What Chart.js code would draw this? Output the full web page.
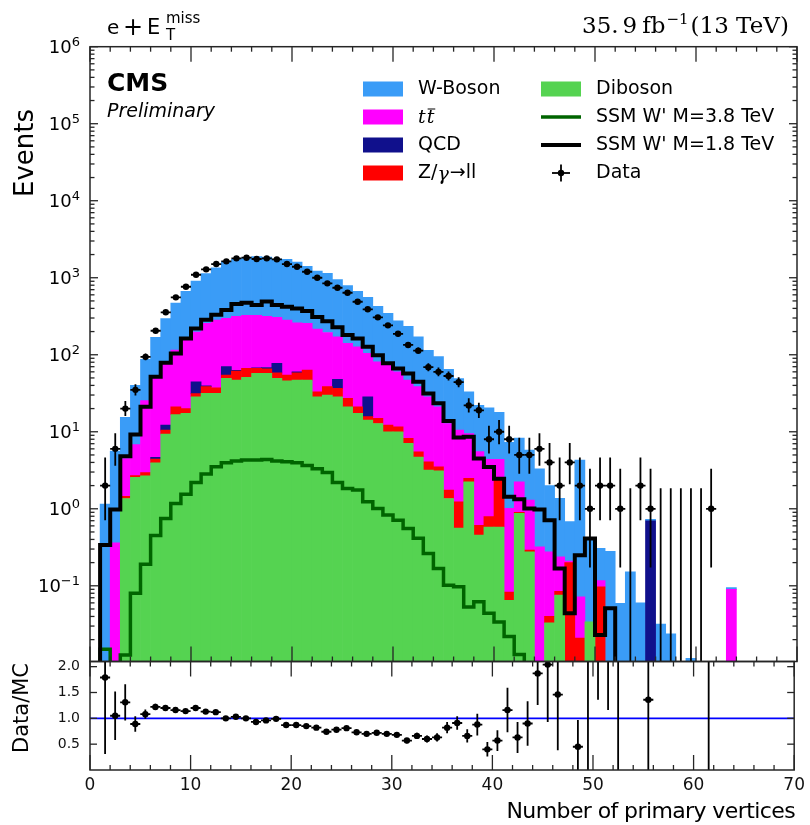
<!DOCTYPE html>
<html>
<head>
<meta charset="utf-8">
<script src="https://cdn.jsdelivr.net/npm/chart.js@4.4.0/dist/chart.umd.min.js"></script>
<style>
  html, body { margin: 0; padding: 0; background: #fff; }
  #wrap { position: relative; width: 810px; height: 825px; }
  #wrap canvas { position: absolute; left: 0; top: 0; }
</style>
</head>
<body>
<div id="wrap">
  <canvas id="mainPad" width="810" height="825"></canvas>
  <canvas id="ratioPad" width="810" height="825"></canvas>
</div>
<script>
// Unit-width bins in the number of primary vertices: [n, n+1)
const binLow = Array.from({ length: 70 }, (_, i) => i);

// Simulated backgrounds, events per bin (stacked bottom to top)
const diboson = [0,0,0,1.36,2.56,2.68,3.96,9.3,16.7,17.3,
  28.5,31.5,31.5,49.3,46.8,50.9,57.4,57.4,49.3,46.0,
  46.8,46.8,28.5,29.9,28.5,21.1,17.3,14.2,12.8,10.0,
  10.0,7.1,4.7,3.18,3.12,1.36,0.56,2.24,0.455,0.58,
  0.58,0.065,0.87,0.277,0,0.033,0.076,0,0,0.034,
  0,0,0,0,0,0,0,0,0,0, 0,0,0,0,0,0,0,0,0,0];
const zGamma = [0,0,0,0.09,0.14,0.27,0.46,1.2,4.4,2.7,
  2.8,7.0,5.7,5.3,14.7,15.5,9.4,8.4,8.9,8.6,
  11.4,16.5,4.5,8.6,8.1,6.1,3.8,1.5,2.1,2.2,
  1.6,1.1,0.8,0.89,0.38,0.39,0.67,0.24,0.155,0.21,
  1.78,0.018,0.03,0.013,0,0.007,0.009,0.2,0.021,0,
  0.097,0,0,0,0,0,0,0,0,0, 0,0,0,0,0,0,0,0,0,0];
const qcd = [0,0,0,0,0,0,0.23,1.7,0,0,
  13.3,1.0,0,15.4,1.5,0,0.7,2.5,19.2,0,
  1.8,0,0,0,11.4,0,0,12.8,0,0,
  0,0,0,0,0,0,0,0,0,0,
  0,0,0,0,0,0,0,0,0,0,
  0,0,0,0,0,0.70,0,0,0,0, 0,0,0,0,0,0,0,0,0,0];
const ttbar = [0,0,0.36,3.05,4.1,22.4,44.7,67.8,93.9,135,
  153,216,245,227,253,258,258,248,228,227,
  200,192,182,156,123,113,106,75.5,66,61.3,
  48.4,38.6,33,24.4,17.6,11.0,9.3,7.0,4.9,3.6,
  2.04,0.93,1.34,1.01,0.32,0.237,0.153,0.01,0.051,0,
  0.02,0,0,0,0,0,0,0,0,0, 0,0,0,0.09,0,0,0,0,0,0];
const wBoson = [0,1.15,5.24,10.9,33.2,61.7,118.7,215,355,510,
  707,879,1058,1323,1414,1496,1554,1544,1445,1448,
  1340,1155,1005,945,779,650,541,452,344,270.5,
  215,188,132.5,85.5,73.9,51.7,38.5,23.5,16.5,16.1,
  13.5,6.3,6.06,4.5,2.98,1.72,1.13,0.47,4.23,0.376,
  0.19,0.28,0.059,0.152,0.06,0.03,0.0318,0.0237,0,0.0114,
  0,0,0,0.005,0,0,0,0,0,0];

// Signal hypotheses (not stacked)
const ssm38 = [0,0.015,0,0.0126,0.080,0.19,0.45,0.75,1.17,1.55,
  2.2,2.82,3.51,3.96,4.17,4.29,4.29,4.38,4.17,4.07,
  3.96,3.65,3.3,2.95,2.2,1.84,1.75,1.23,1.01,0.83,
  0.71,0.556,0.413,0.263,0.168,0.102,0.097,0.053,0.062,0.044,
  0.034,0.022,0.0128,0,0,0,0,0,0,0,
  0,0,0,0,0,0,0,0,0,0, 0,0,0,0,0,0,0,0,0,0];
const ssm18 = [0,0.338,0.98,4.8,9.2,21.1,51.9,79,104,163,
  219,285,330,380,457,474,442,490,442,419,
  400,370,310,272,228,180,163,127,98.5,77.4,
  66.4,57.2,44.6,31.5,23.4,13.8,8.4,8.6,4.5,3.5,
  2.45,1.43,1.33,1.01,0.98,0.71,0.168,0.044,0.25,0.41,
  0.023,0.051,0,0,0,0,0,0,0,0, 0,0,0,0,0,0,0,0,0,0];

// Observed events (null = no entry drawn)
const dataCounts = [null,2,6,20,35,94,205,356,556,764,
  1094,1285,1506,1633,1786,1820,1750,1786,1734,1506,
  1390,1197,1000,845,741,638,488,389,306,241,
  187,134,113,69,60,53,44,22,19,8,
  10,8,5,5,6,4,2,4,2,1,
  2,2,1,0,2,1,0,0,0,0,
  0,1,null,null,null,null,null,null,null,null];

// Data / MC and its uncertainty
const ratio = [null,1.79,1.05,1.31,0.89,1.08,1.22,1.20,1.16,1.14,
  1.20,1.13,1.12,1.00,1.03,1.00,0.93,0.96,0.99,0.87,
  0.87,0.85,0.82,0.74,0.78,0.81,0.73,0.70,0.72,0.70,
  0.68,0.57,0.66,0.60,0.63,0.82,0.91,0.66,0.88,0.40,
  0.57,1.16,0.63,0.90,1.87,2.04,1.46,null,0.45,2.44,
  4.6,4.0,17,null,null,1.36,null,null,null,null,
  null,9.9,null,null,null,null,null,null,null,null];
const ratioErr = [null,1.48,0.47,0.35,0.15,0.09,0.06,0.05,0.04,0.035,
  0.03,0.03,0.03,0.03,0.03,0.03,0.03,0.03,0.03,0.03,
  0.03,0.03,0.03,0.03,0.03,0.03,0.03,0.03,0.03,0.03,
  0.035,0.05,0.06,0.07,0.08,0.11,0.13,0.13,0.21,0.14,
  0.2,0.43,0.3,0.43,0.61,1.11,1.08,null,0.52,2.44,
  3.24,2.84,17,null,null,1.36,null,null,null,null,
  null,9.9,null,null,null,null,null,null,null,null];

// 68% Poisson (Garwood) intervals for low counts
const garwood = {0:[0,1.841],1:[0.173,3.300],2:[0.708,4.638],3:[1.367,5.918],4:[2.086,7.163],
  5:[2.840,8.382],6:[3.620,9.584],7:[4.419,10.77],8:[5.232,11.95],9:[6.057,13.11],10:[6.891,14.27]};
function poissonBand(n) {
  if (n in garwood) return garwood[n];
  const s = Math.sqrt(n + 0.25);
  return [n + 0.5 - s, n + 0.5 + s];
}

const COL = {
  w: '#3a9cf7', tt: '#ff00ff', qcd: '#10108c', z: '#ff0000', db: '#55d351',
  s38: '#006400', s18: '#000000', frame: '#262626'
};
const FONT = '"DejaVu Sans", "Noto Sans", sans-serif';
const SERIF = '"DejaVu Serif", "Liberation Serif", serif';
Chart.defaults.font.family = FONT;

const barPts = arr => binLow.map((b, i) => ({ x: b + 0.5, y: arr[i] }));
const stepPts = arr => {
  const pts = binLow.map((b, i) => ({ x: b, y: arr[i] > 0 ? arr[i] : 1e-6 }));
  const last = arr[arr.length - 1];
  pts.push({ x: binLow[binLow.length - 1] + 1, y: last > 0 ? last : 1e-6 });
  return pts;
};
const dataPts = binLow.map((b, i) => ({ x: b + 0.5, y: dataCounts[i] }))
  .filter(p => p.y !== null && p.y > 0);
const ratioPts = binLow.map((b, i) => ({ x: b + 0.5, y: ratio[i] }))
  .filter(p => p.y !== null);

function line(ctx, x1, y1, x2, y2) {
  ctx.beginPath(); ctx.moveTo(x1, y1); ctx.lineTo(x2, y2); ctx.stroke();
}

// Inward tick marks on all four sides of a pad
function drawTicks(ctx, a, xs, ys, xMajor, xMinor, yMajor, yMinor, L) {
  ctx.save();
  ctx.strokeStyle = COL.frame;
  ctx.lineWidth = 1.3;
  xMajor.forEach(v => { const p = xs.getPixelForValue(v);
    line(ctx, p, a.bottom, p, a.bottom - L.xMaj); line(ctx, p, a.top, p, a.top + L.xMaj); });
  xMinor.forEach(v => { const p = xs.getPixelForValue(v);
    line(ctx, p, a.bottom, p, a.bottom - L.xMin); line(ctx, p, a.top, p, a.top + L.xMin); });
  yMajor.forEach(v => { const p = ys.getPixelForValue(v);
    line(ctx, a.left, p, a.left + L.yMaj, p); line(ctx, a.right, p, a.right - L.yMaj, p); });
  yMinor.forEach(v => { const p = ys.getPixelForValue(v);
    line(ctx, a.left, p, a.left + L.yMin, p); line(ctx, a.right, p, a.right - L.yMin, p); });
  ctx.lineWidth = 1.5;
  ctx.strokeRect(a.left, a.top, a.right - a.left, a.bottom - a.top);
  ctx.restore();
}

const xMajorVals = [0, 10, 20, 30, 40, 50, 60, 70];
const xMinorVals = [];
for (let v = 2; v < 70; v += 2) if (v % 10) xMinorVals.push(v);

// Error bars for data points
const dataErrPlugin = {
  id: 'dataErr',
  afterDatasetsDraw(chart) {
    const { ctx, chartArea: a, scales: { x, y } } = chart;
    ctx.save();
    ctx.beginPath(); ctx.rect(a.left, a.top, a.right - a.left, a.bottom - a.top); ctx.clip();
    ctx.strokeStyle = '#000'; ctx.lineWidth = 1.8;
    dataCounts.forEach((n, i) => {
      if (n === null) return;
      const cx = x.getPixelForValue(binLow[i] + 0.5);
      const [lo, hi] = poissonBand(n);
      const yLo = lo > 0 ? y.getPixelForValue(lo) : a.bottom + 5;
      line(ctx, cx, yLo, cx, y.getPixelForValue(hi));
      if (n > 0) {
        const yc = y.getPixelForValue(n);
        line(ctx, x.getPixelForValue(binLow[i]), yc, x.getPixelForValue(binLow[i] + 1), yc);
      }
    });
    ctx.restore();
  }
};

// Frame, ticks, axis labels, legend and headers of the upper pad
const mainDecor = {
  id: 'mainDecor',
  afterDraw(chart) {
    const { ctx, chartArea: a, scales: { x, y } } = chart;
    const yMaj = [], yMin = [];
    for (let k = -2; k <= 6; k++) {
      const d = Math.pow(10, k);
      if (d >= y.min && d <= y.max) yMaj.push(d);
      for (let m = 2; m <= 9; m++) { const v = m * d; if (v >= y.min && v <= y.max) yMin.push(v); }
    }
    drawTicks(ctx, a, x, y, xMajorVals, xMinorVals, yMaj, yMin, { xMaj: 15, xMin: 5, yMaj: 8, yMin: 4.5 });

    ctx.save();
    ctx.fillStyle = '#000';
    // y tick labels 10^k
    yMaj.forEach(v => {
      const k = Math.round(Math.log10(v));
      const p = y.getPixelForValue(v);
      const sup = k < 0 ? '\u2212' + (-k) : String(k);
      ctx.font = '13px ' + FONT; ctx.textAlign = 'right'; ctx.textBaseline = 'alphabetic';
      const sw = ctx.measureText(sup).width;
      ctx.fillText(sup, 80, p - 1);
      ctx.font = '18px ' + FONT;
      ctx.fillText('10', 80 - sw, p + 6.5);
    });

    // y title
    ctx.save();
    ctx.translate(33, 197); ctx.rotate(-Math.PI / 2);
    ctx.font = '26px ' + FONT; ctx.textAlign = 'left'; ctx.textBaseline = 'alphabetic';
    ctx.fillText('Events', 0, 0);
    ctx.restore();

    // channel label  e + E_T^miss
    ctx.textAlign = 'left'; ctx.textBaseline = 'alphabetic';
    ctx.font = '20px ' + FONT;
    ctx.fillText('e', 107, 34);
    ctx.font = '24px ' + FONT;
    ctx.fillText('+', 123, 35);
    ctx.font = '21px ' + FONT;
    ctx.fillText('E', 147, 34);
    ctx.font = '15px ' + FONT;
    ctx.fillText('T', 166, 40);
    ctx.fillText('miss', 166, 23);

    // luminosity label
    ctx.font = '23px ' + SERIF;
    let cx = 582;
    ctx.fillText('35.', cx, 33); cx += ctx.measureText('35.').width + 4;
    ctx.fillText('9', cx, 33); cx += ctx.measureText('9').width + 5;
    ctx.fillText('fb', cx, 33); cx += ctx.measureText('fb').width + 1;
    ctx.font = '15px ' + SERIF;
    ctx.fillText('\u22121', cx, 24); cx += ctx.measureText('\u22121').width + 2;
    ctx.font = '23px ' + SERIF;
    ctx.fillText('(13 TeV)', cx, 33);

    // experiment label
    ctx.font = 'bold 25px ' + FONT;
    ctx.fillText('CMS', 107, 91);
    ctx.font = 'italic 19px ' + FONT;
    ctx.fillText('Preliminary', 107, 117);

    // legend
    const rows = [89, 117, 145, 173];
    const ds = chart.data.datasets;
    const sw = (x0, yy, c) => { ctx.fillStyle = c; ctx.fillRect(x0, yy - 7.5, 40, 15); };
    sw(363, rows[0], ds[4].backgroundColor);
    sw(363, rows[1], ds[3].backgroundColor);
    sw(363, rows[2], ds[2].backgroundColor);
    sw(363, rows[3], ds[1].backgroundColor);
    sw(541, rows[0], ds[0].backgroundColor);
    ctx.lineCap = 'butt';
    ctx.strokeStyle = ds[5].borderColor; ctx.lineWidth = 3.5; line(ctx, 541, rows[1], 581, rows[1]);
    ctx.strokeStyle = ds[6].borderColor; ctx.lineWidth = 4; line(ctx, 541, rows[2], 581, rows[2]);
    ctx.strokeStyle = '#000'; ctx.lineWidth = 1.8;
    line(ctx, 552, rows[3], 570, rows[3]); line(ctx, 561, rows[3] - 8.5, 561, rows[3] + 8.5);
    ctx.fillStyle = '#000'; ctx.beginPath(); ctx.arc(561, rows[3], 3.2, 0, Math.PI * 2); ctx.fill();

    ctx.fillStyle = '#000'; ctx.textBaseline = 'middle'; ctx.textAlign = 'left';
    ctx.font = '19px ' + FONT;
    ctx.fillText('W-Boson', 418, rows[0]);
    ctx.fillText('QCD', 418, rows[2]);
    ctx.fillText('Diboson', 596, rows[0]);
    ctx.fillText("SSM W' M=3.8 TeV", 596, rows[1]);
    ctx.fillText("SSM W' M=1.8 TeV", 596, rows[2]);
    ctx.fillText('Data', 596, rows[3]);
    // t tbar
    ctx.font = 'italic 19px ' + SERIF;
    ctx.fillText('t', 418, rows[1] + 1);
    const tw = ctx.measureText('t').width;
    ctx.fillText('t', 418 + tw + 1, rows[1] + 1);
    ctx.strokeStyle = '#000'; ctx.lineWidth = 1;
    line(ctx, 418 + tw + 2, rows[1] - 8, 418 + 2 * tw + 2, rows[1] - 8);
    // Z/gamma -> ll
    let lx = 418;
    ctx.font = '19px ' + FONT;
    ctx.fillText('Z/', lx, rows[3]); lx += ctx.measureText('Z/').width;
    ctx.font = 'italic 19px ' + SERIF;
    ctx.fillText('\u03b3', lx, rows[3] + 2); lx += ctx.measureText('\u03b3').width + 1;
    ctx.font = '19px ' + FONT;
    ctx.fillText('\u2192ll', lx, rows[3]);
    ctx.restore();
  }
};

new Chart(document.getElementById('mainPad'), {
  type: 'bar',
  data: {
    datasets: [
      { label: 'Diboson', data: barPts(diboson), backgroundColor: COL.db, stack: 'mc', order: 10 },
      { label: 'Z/\u03b3\u2192ll', data: barPts(zGamma), backgroundColor: COL.z, stack: 'mc', order: 11 },
      { label: 'QCD', data: barPts(qcd), backgroundColor: COL.qcd, stack: 'mc', order: 12 },
      { label: 'tt', data: barPts(ttbar), backgroundColor: COL.tt, stack: 'mc', order: 13 },
      { label: 'W-Boson', data: barPts(wBoson), backgroundColor: COL.w, stack: 'mc', order: 14 },
      { type: 'line', label: "SSM W' M=3.8 TeV", data: stepPts(ssm38), stepped: 'before',
        borderColor: COL.s38, borderWidth: 3.5, pointRadius: 0, fill: false, stack: 's38', order: 3,
        clip: 0, borderJoinStyle: 'miter', borderCapStyle: 'butt' },
      { type: 'line', label: "SSM W' M=1.8 TeV", data: stepPts(ssm18), stepped: 'before',
        borderColor: COL.s18, borderWidth: 4, pointRadius: 0, fill: false, stack: 's18', order: 2,
        clip: 0, borderJoinStyle: 'miter', borderCapStyle: 'butt' },
      { type: 'scatter', label: 'Data', data: dataPts, pointRadius: 3.2, pointBackgroundColor: '#000',
        pointBorderWidth: 0, stack: 'data', order: 1 }
    ]
  },
  options: {
    responsive: false, maintainAspectRatio: false, animation: false, events: [],
    layout: { padding: { left: 90, right: 13, top: 46.7, bottom: 163.5 } },
    plugins: { legend: { display: false }, tooltip: { enabled: false } },
    datasets: { bar: { barPercentage: 1, categoryPercentage: 1, borderWidth: 0 } },
    scales: {
      x: { type: 'linear', min: 0, max: 70, offset: false, display: false },
      y: { type: 'logarithmic', min: 0.0104, max: 1e6, display: false, stacked: true }
    }
  },
  plugins: [dataErrPlugin, mainDecor]
});

// Ratio pad
const ratioErrPlugin = {
  id: 'ratioErr',
  afterDatasetsDraw(chart) {
    const { ctx, chartArea: a, scales: { x, y } } = chart;
    ctx.save();
    ctx.beginPath(); ctx.rect(a.left, a.top, a.right - a.left, a.bottom - a.top); ctx.clip();
    ctx.strokeStyle = '#000'; ctx.lineWidth = 1.8;
    ratio.forEach((r, i) => {
      if (r === null) return;
      const e = ratioErr[i];
      const cx = x.getPixelForValue(binLow[i] + 0.5);
      line(ctx, cx, y.getPixelForValue(Math.max(r - e, -0.1)), cx, y.getPixelForValue(r + e));
      const yc = y.getPixelForValue(r);
      line(ctx, x.getPixelForValue(binLow[i]), yc, x.getPixelForValue(binLow[i] + 1), yc);
    });
    ctx.restore();
  }
};
const ratioDecor = {
  id: 'ratioDecor',
  afterDraw(chart) {
    const { ctx, chartArea: a, scales: { x, y } } = chart;
    drawTicks(ctx, a, x, y, xMajorVals, xMinorVals, [0.5, 1.0, 1.5, 2.0], [], { xMaj: 15, xMin: 5, yMaj: 7, yMin: 4 });
    ctx.save();
    ctx.fillStyle = '#000';
    ctx.translate(28, 753); ctx.rotate(-Math.PI / 2);
    ctx.font = '21px ' + FONT; ctx.textAlign = 'left'; ctx.textBaseline = 'alphabetic';
    ctx.fillText('Data/MC', 0, 0);
    ctx.restore();
    ctx.save();
    ctx.fillStyle = '#000';
    ctx.font = '22px ' + FONT; ctx.textAlign = 'right'; ctx.textBaseline = 'alphabetic';
    ctx.letterSpacing = '-0.6px';
    ctx.fillText('Number of primary vertices', 795, 818);
    ctx.restore();
  }
};

new Chart(document.getElementById('ratioPad'), {
  type: 'scatter',
  data: {
    datasets: [
      { type: 'line', label: 'unity', data: [{ x: 0, y: 1 }, { x: 70, y: 1 }], borderColor: '#0000ff',
        borderWidth: 1.6, pointRadius: 0, order: 2 },
      { label: 'Data/MC', data: ratioPts, pointRadius: 3.2, pointBackgroundColor: '#000',
        pointBorderWidth: 0, order: 1, clip: 0 }
    ]
  },
  options: {
    responsive: false, maintainAspectRatio: false, animation: false, events: [],
    layout: { padding: { left: 0, right: 13, top: 661.5, bottom: 0 } },
    plugins: { legend: { display: false }, tooltip: { enabled: false } },
    scales: {
      x: {
        type: 'linear', min: 0, max: 70, offset: false,
        grid: { display: false, drawTicks: false }, border: { display: false },
        ticks: { stepSize: 10, color: '#111', padding: 5, maxRotation: 0, autoSkip: false,
          font: { size: 17, family: FONT } },
        afterFit(s) { s.height = 55; }
      },
      y: {
        type: 'linear', min: 0, max: 2.1,
        grid: { display: false, drawTicks: false }, border: { display: false },
        ticks: { color: '#111', padding: 10, font: { size: 14, family: FONT },
          callback: v => Number(v).toFixed(1) },
        afterBuildTicks(s) { s.ticks = [0.5, 1.0, 1.5, 2.0].map(v => ({ value: v })); },
        afterFit(s) { s.width = 90; }
      }
    }
  },
  plugins: [ratioErrPlugin, ratioDecor]
});
</script>
</body>
</html>
